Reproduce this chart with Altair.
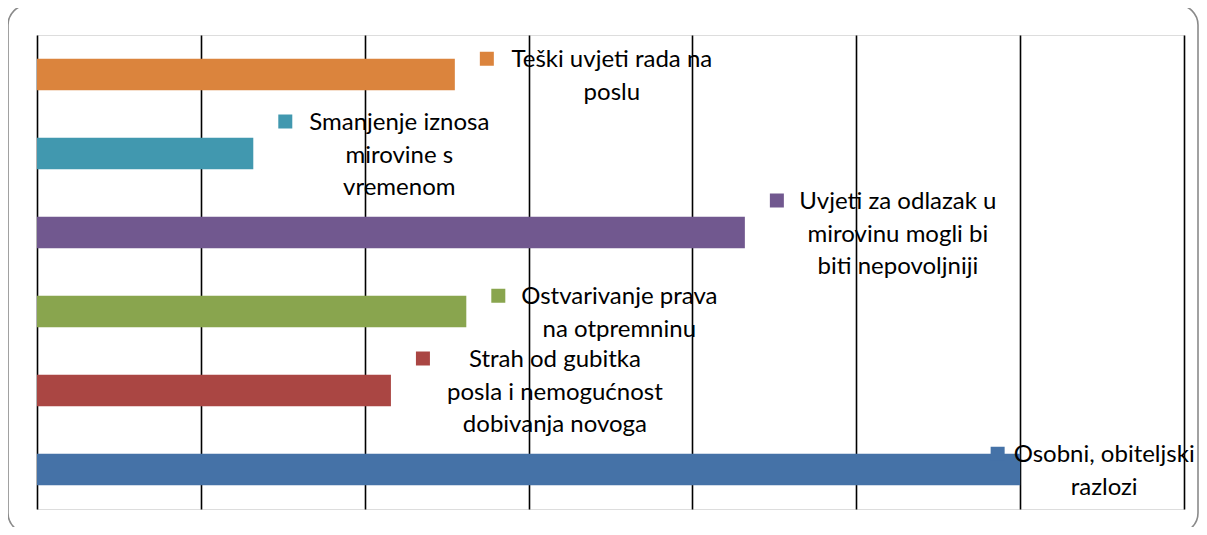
import altair as alt
import pandas as pd

categories = [
    "Teški uvjeti rada na poslu",
    "Smanjenje iznosa mirovine s vremenom",
    "Uvjeti za odlazak u mirovinu mogli bi biti nepovoljniji",
    "Ostvarivanje prava na otpremninu",
    "Strah od gubitka posla i nemogućnost dobivanja novoga",
    "Osobni, obiteljski razlozi",
]
values = [25.5, 13.2, 43.2, 26.2, 21.6, 60.0]
label_lines = [
    ["Teški uvjeti rada na", "poslu"],
    ["Smanjenje iznosa", "mirovine s", "vremenom"],
    ["Uvjeti za odlazak u", "mirovinu mogli bi", "biti nepovoljniji"],
    ["Ostvarivanje prava", "na otpremninu"],
    ["Strah od gubitka", "posla i nemogućnost", "dobivanja novoga"],
    ["Osobni, obiteljski", "razlozi"],
]
colors = ["#DB843D", "#4198AF", "#71588F", "#89A54E", "#AA4643", "#4572A7"]
x_ticks = [0, 10, 20, 30, 40, 50, 60, 70]

# label placement styles (pixel offsets from bar end)
text_dx = [157, 146, 153, 153, 164, 84]
marker_dx = [32, 32, 32, 32, 32, -22.5]
LINE_H = 32.5
FONT = "Lato"
FSIZE = 24

W, H = 1147, 474
df = pd.DataFrame({"cat": categories, "val": values})

xscale = alt.Scale(domain=[0, 70], nice=False, zero=True)
yscale = alt.Scale(domain=categories, paddingInner=0.6, paddingOuter=0.3)
xenc = alt.X("val:Q", scale=xscale,
             axis=alt.Axis(values=x_ticks, grid=True, gridColor="#000000", gridWidth=1.6,
                           labels=False, ticks=False, domain=False, title=None))
yenc = alt.Y("cat:N", scale=yscale, axis=None, sort=categories)

bars = alt.Chart(df).mark_bar().encode(
    x=xenc,
    y=yenc,
    color=alt.Color("cat:N", scale=alt.Scale(domain=categories, range=colors), legend=None),
)

layers = [bars]
for i, cat in enumerate(categories):
    n = len(label_lines[i])
    tdy = 9 - (n - 1) * LINE_H / 2
    sub = pd.DataFrame({"cat": [cat], "val": [values[i]], "lbl": [label_lines[i]]})
    base = alt.Chart(sub)
    layers.append(
        base.mark_square(size=196, opacity=1, filled=True, color=colors[i],
                         xOffset=marker_dx[i], yOffset=tdy - 8.5).encode(
            x=alt.X("val:Q", scale=xscale), y=alt.Y("cat:N", scale=yscale, sort=categories))
    )
    layers.append(
        base.mark_text(align="center", baseline="alphabetic", font=FONT, fontSize=FSIZE,
                       color="#000000", lineHeight=LINE_H, dx=text_dx[i], dy=tdy).encode(
            x=alt.X("val:Q", scale=xscale), y=alt.Y("cat:N", scale=yscale, sort=categories),
            text="lbl")
    )

border = alt.Chart(pd.DataFrame({"a": [0]})).mark_rect(
    fill="transparent", stroke="#8a8a8a", strokeWidth=1.6, cornerRadius=20
).encode(x=alt.value(-29), x2=alt.value(1161), y=alt.value(-30), y2=alt.value(498))

chart = alt.layer(*layers, border).properties(
    width=W, height=H,
    autosize=alt.AutoSizeParams(type="none"),
    padding={"left": 29, "top": 27, "right": 15, "bottom": 18},
).configure_view(stroke=None).configure(background="white")

chart.save("out.html", embed_options={"renderer": "svg", "actions": False})
